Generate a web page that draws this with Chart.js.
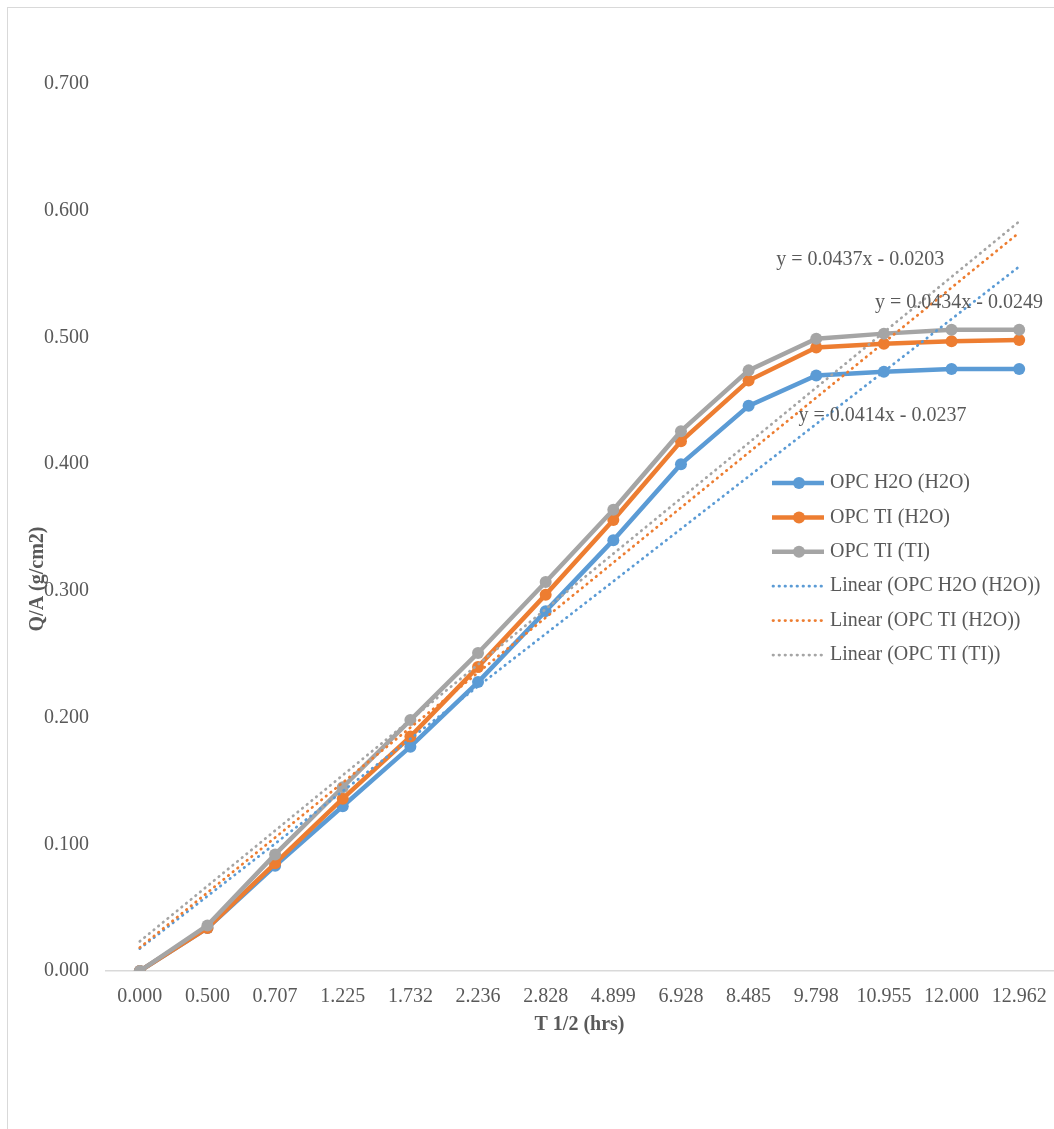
<!DOCTYPE html>
<html>
<head>
<meta charset="utf-8">
<title>Q/A vs T 1/2</title>
<script src="https://cdn.jsdelivr.net/npm/chart.js@4.4.1/dist/chart.umd.min.js"></script>
<style>
    html, body { margin: 0; padding: 0; background: #ffffff; }
    #wrap { position: relative; width: 1054px; height: 1129px; }
</style>
</head>
<body>
<div id="wrap"><canvas id="qaChart" width="1054" height="1129"></canvas></div>
<script>
// ======================================================
// Data
// ======================================================

const timeLabels = ["0.000","0.500","0.707","1.225","1.732","2.236","2.828",
                    "4.899","6.928","8.485","9.798","10.955","12.000","12.962"];

const opcH2O   = [0, 0.034, 0.083, 0.130, 0.177, 0.228, 0.284, 0.340, 0.400, 0.446, 0.470, 0.473, 0.475, 0.475];
const opcTiH2O = [0, 0.034, 0.085, 0.136, 0.185, 0.240, 0.297, 0.356, 0.418, 0.466, 0.492, 0.495, 0.497, 0.498];
const opcTiTi  = [0, 0.036, 0.092, 0.145, 0.198, 0.251, 0.307, 0.364, 0.426, 0.474, 0.499, 0.503, 0.506, 0.506];

const seriesNames = ["OPC H2O (H2O)", "OPC TI (H2O)", "OPC TI (TI)"];

// trendline equations as printed on the chart (x = point number 1..14)
const trendSlopes     = [0.0414, 0.0434, 0.0437];
const trendIntercepts = [-0.0237, -0.0249, -0.0203];

const yTicks = [0, 0.1, 0.2, 0.3, 0.4, 0.5, 0.6, 0.7];

// ======================================================
// Styling
// ======================================================

const colors = ["#5B9BD5", "#ED7D31", "#A5A5A5"];
const textColor = "#595959";
const fontFamily = "'Liberation Serif', 'Times New Roman', serif";

function trendData(i) {
    return timeLabels.map((_, k) => trendSlopes[i] * (k + 1) + trendIntercepts[i]);
}

function fmtEq(i) {
    const b = trendIntercepts[i];
    return "y = " + trendSlopes[i].toFixed(4) + "x " + (b < 0 ? "- " : "+ ") + Math.abs(b).toFixed(4);
}

const seriesData = [opcH2O, opcTiH2O, opcTiTi];

const datasets = [];

seriesData.forEach((d, i) => {
    datasets.push({
        label: seriesNames[i],
        data: d,
        borderColor: colors[i],
        backgroundColor: colors[i],
        borderWidth: 4.5,
        pointRadius: 6,
        pointHoverRadius: 6,
        pointBorderWidth: 0,
        tension: 0,
        order: 3 - i + 3
    });
});

seriesData.forEach((d, i) => {
    datasets.push({
        label: "Linear (" + seriesNames[i] + ")",
        data: trendData(i),
        borderColor: colors[i],
        borderWidth: 2.75,
        borderDash: [0.5, 5.5],
        borderCapStyle: "round",
        pointRadius: 0,
        tension: 0,
        order: 3 - i
    });
});

// ======================================================
// Extras plugin: border, y title, equations, legend
// ======================================================

const extrasPlugin = {
    id: "extras",
    beforeDraw(chart) {
        const ctx = chart.ctx;
        ctx.save();
        ctx.strokeStyle = "#d9d9d9";
        ctx.lineWidth = 1;
        ctx.strokeRect(7.5, 7.5, 1200, 1300);
        ctx.restore();
    },
    afterDraw(chart) {
        const ctx = chart.ctx;
        const xs = chart.scales.x;
        const ys = chart.scales.y;

        ctx.save();

        // y axis title
        ctx.fillStyle = textColor;
        ctx.font = "bold 20px " + fontFamily;
        ctx.textAlign = "center";
        ctx.textBaseline = "middle";
        ctx.translate(38, 579);
        ctx.rotate(-Math.PI / 2);
        ctx.fillText("Q/A (g/cm2)", 0, 0);
        ctx.setTransform(1, 0, 0, 1, 0, 0);

        // trendline equations
        ctx.font = "20px " + fontFamily;
        ctx.fillStyle = textColor;
        ctx.textAlign = "center";
        ctx.textBaseline = "middle";
        const eqPos = [[10.98, 0.438], [12.11, 0.527], [10.65, 0.561]];
        eqPos.forEach((p, i) => {
            ctx.fillText(fmtEq(i), xs.getPixelForValue(p[0]), ys.getPixelForValue(p[1]));
        });

        // legend
        const lx = 772, ly = 483, step = 34.4;
        ctx.textAlign = "left";
        chart.data.datasets.forEach((ds, k) => {
            const y = ly + k * step;
            ctx.strokeStyle = ds.borderColor;
            if (k < 3) {
                ctx.lineWidth = 4.5;
                ctx.setLineDash([]);
                ctx.lineCap = "butt";
                ctx.beginPath();
                ctx.moveTo(lx, y);
                ctx.lineTo(lx + 52, y);
                ctx.stroke();
                ctx.fillStyle = ds.borderColor;
                ctx.beginPath();
                ctx.arc(lx + 27, y, 6, 0, Math.PI * 2);
                ctx.fill();
            } else {
                ctx.lineWidth = 2.75;
                ctx.setLineDash([0.5, 5.5]);
                ctx.lineCap = "round";
                ctx.beginPath();
                ctx.moveTo(lx + 1, y);
                ctx.lineTo(lx + 52, y);
                ctx.stroke();
                ctx.setLineDash([]);
            }
            ctx.fillStyle = textColor;
            ctx.fillText(ds.label, lx + 58, y);
        });

        ctx.restore();
    }
};

// ======================================================
// Chart
// ======================================================

new Chart(document.getElementById("qaChart"), {
    type: "line",
    data: {
        labels: timeLabels,
        datasets: datasets
    },
    options: {
        responsive: false,
        animation: false,
        devicePixelRatio: 1,
        layout: {
            autoPadding: false,
            padding: { top: 84, right: 1, left: 0, bottom: 0 }
        },
        plugins: {
            legend: { display: false },
            tooltip: { enabled: false }
        },
        scales: {
            x: {
                offset: true,
                grid: { display: false, drawTicks: true, tickLength: 12 },
                border: { display: true, color: "#d9d9d9", width: 1.5 },
                ticks: {
                    color: textColor,
                    font: { family: fontFamily, size: 20 },
                    padding: 2,
                    maxRotation: 0,
                    autoSkip: false
                },
                title: {
                    display: true,
                    text: "T 1/2 (hrs)",
                    color: textColor,
                    font: { family: fontFamily, size: 20, weight: "bold" },
                    padding: { top: 0, bottom: 92 }
                },
                afterFit(scale) {
                    scale.height = 158;
                    scale.paddingLeft = 0;
                    scale.paddingRight = 0;
                }
            },
            y: {
                min: 0,
                max: 0.7,
                grid: { display: false, drawTicks: false },
                border: { display: false },
                afterBuildTicks(scale) {
                    scale.ticks = yTicks.map(v => ({ value: v }));
                },
                ticks: {
                    color: textColor,
                    font: { family: fontFamily, size: 20 },
                    padding: 17,
                    callback: v => Number(v).toFixed(3)
                },
                afterFit(scale) { scale.width = 106; }
            }
        }
    },
    plugins: [extrasPlugin]
});
</script>
</body>
</html>
